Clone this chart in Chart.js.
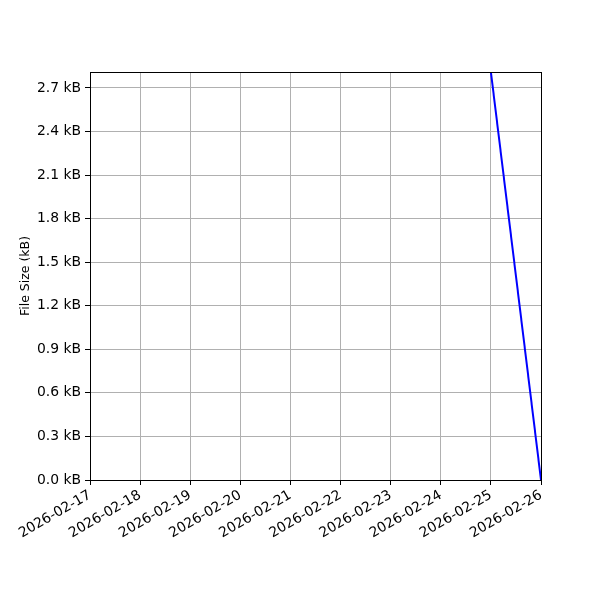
<!DOCTYPE html>
<html>
<head>
<meta charset="utf-8">
<script src="https://cdn.jsdelivr.net/npm/chart.js@4"></script>
<style>
  html, body { margin: 0; padding: 0; background: #fff; }
  #wrap { width: 600px; height: 600px; }
</style>
</head>
<body>
<div id="wrap"><canvas id="myChart" width="600" height="600"></canvas></div>
<script>
// Dates on the x axis
var dates = ['2026-02-17', '2026-02-18', '2026-02-19', '2026-02-20', '2026-02-21',
             '2026-02-22', '2026-02-23', '2026-02-24', '2026-02-25', '2026-02-26'];

// File size readings (kB)
var sizeDates = ['2026-02-25', '2026-02-26'];
var sizeValues = [2.81, 0.0];

// Y axis limits and tick values
var yMax = 2.81;
var yTicks = [0.0, 0.3, 0.6, 0.9, 1.2, 1.5, 1.8, 2.1, 2.4, 2.7];

var points = sizeDates.map(function(d, i) {
    return {x: d, y: sizeValues[i]};
});

// Frame around the plot area, like matplotlib spines
var framePlugin = {
    id: 'frame',
    afterDraw: function(chart) {
        var a = chart.chartArea;
        var ctx = chart.ctx;
        ctx.save();
        ctx.strokeStyle = '#000';
        ctx.lineWidth = 1;
        ctx.strokeRect(a.left + 0.5, a.top + 0.5, a.right - a.left, a.bottom - a.top);
        ctx.restore();
    }
};

Chart.defaults.font.family = 'DejaVu Sans';
Chart.defaults.font.size = 13.9;
Chart.defaults.color = '#000';

var ctx = document.getElementById('myChart').getContext('2d');
var myChart = new Chart(ctx, {
    type: 'line',
    data: {
        labels: dates,
        datasets: [{
            label: 'File Size',
            data: points,
            borderColor: '#0000ff',
            borderWidth: 2,
            pointRadius: 0,
            tension: 0,
            fill: false
        }]
    },
    options: {
        responsive: false,
        animation: false,
        layout: {
            padding: {top: 72, right: 59, bottom: 0, left: 18}
        },
        plugins: {
            legend: {display: false},
            tooltip: {enabled: false}
        },
        scales: {
            x: {
                type: 'category',
                offset: false,
                grid: {
                    color: '#b0b0b0',
                    lineWidth: 1,
                    tickColor: '#000',
                    tickLength: 5
                },
                border: {color: '#000'},
                ticks: {
                    autoSkip: false,
                    maxRotation: 30,
                    minRotation: 30,
                    padding: 2
                },
                afterFit: function(scale) { scale.height = 120; }
            },
            y: {
                min: 0,
                max: yMax,
                grid: {
                    color: '#b0b0b0',
                    lineWidth: 1,
                    tickColor: '#000',
                    tickLength: 5
                },
                border: {color: '#000'},
                ticks: {
                    autoSkip: false,
                    padding: 4,
                    callback: function(v) { return v.toFixed(1) + ' kB'; }
                },
                afterBuildTicks: function(scale) {
                    scale.ticks = yTicks.map(function(v) { return {value: v}; });
                },
                title: {
                    display: true,
                    text: 'File Size (kB)',
                    font: {size: 12.5},
                    padding: {top: 0, bottom: 6}
                },
                afterFit: function(scale) { scale.width = 72; }
            }
        }
    },
    plugins: [framePlugin]
});
</script>
</body>
</html>
